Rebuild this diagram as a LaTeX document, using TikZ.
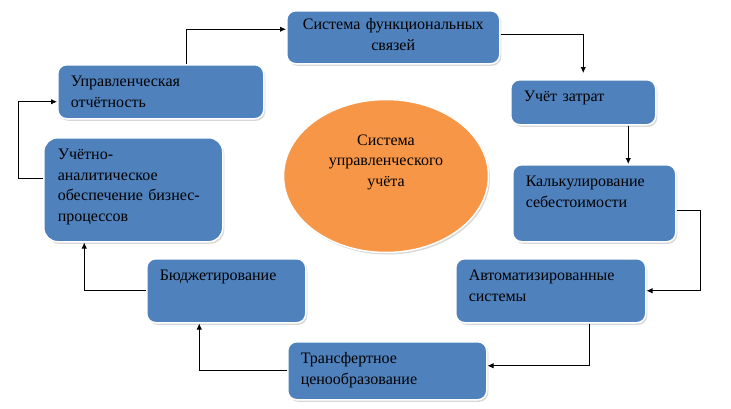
\documentclass[tikz,border=0pt]{standalone}
\usepackage{fontspec}
\setmainfont{Liberation Serif}
\usepackage{tikz}
\usetikzlibrary{shapes.geometric,shadows,arrows.meta}

\definecolor{sinij}{HTML}{4F81BD}
\definecolor{oranzh}{HTML}{F79646}
\newcommand{\tekst}{\fontsize{16}{20.5}\selectfont}

\begin{document}
\begin{tikzpicture}[
    x=1pt,
    y=-1pt,
    blok/.style={
        rectangle,
        rounded corners=9pt,
        fill=sinij,
        draw=white,
        line width=1.5pt,
        drop shadow={shadow xshift=1.5pt, shadow yshift=-2pt, fill=gray!60},
        anchor=north west,
        align=left,
        inner xsep=13pt,
        inner ysep=10pt,
        text height=12pt,
        font=\tekst
    },
    krugstyle/.style={
        ellipse,
        fill=oranzh,
        draw=white,
        line width=1.5pt,
        drop shadow={shadow xshift=1.5pt, shadow yshift=-2pt, fill=gray!60},
        minimum width=205pt,
        minimum height=153pt,
        inner sep=0pt,
        align=center,
        text width=125pt,
        text height=12pt,
        text depth=74pt,
        font=\tekst
    },
    strelka/.style={
        line width=0.9pt,
        -{Latex[length=6pt,width=5.5pt]}
    }
]

\useasboundingbox (0,0) rectangle (731,408);

% centre
\node[krugstyle] (krug) at (386,176) {Система\\управленческого\\учёта};

% boxes round the centre
\node[blok, align=center, inner xsep=7pt, inner ysep=7pt, text width=199pt, text depth=27pt]
    (sys) at (286,10) {Система функциональных\\связей};
\node[blok, text width=119pt, text depth=13pt]
    (zatr) at (510,79) {Учёт затрат};
\node[blok, text width=137pt, text depth=45pt]
    (kalk) at (512,164) {Калькулирование\\себестоимости};
\node[blok, text width=164pt, text depth=32pt]
    (avt) at (455,258) {Автоматизированные\\системы};
\node[blok, text width=173pt, text depth=26pt]
    (trans) at (287,341) {Трансфертное\\ценообразование};
\node[blok, text width=133pt, text depth=32pt]
    (bud) at (146,258) {Бюджетирование};
\node[blok, rounded corners=14pt, inner xsep=14pt, text width=151pt, text depth=72pt]
    (uan) at (43,137) {Учётно-\\аналитическое\\обеспечение бизнес-\\процессов};
\node[blok, text width=180pt, text depth=22pt]
    (otch) at (57,64) {Управленческая\\отчётность};

% arrows
\draw[strelka] ([xshift=26pt]otch.north) |- ([yshift=8pt]sys.west);
\draw[strelka, shorten >=6pt] ([yshift=3pt]sys.east) -| (zatr.north);
\draw[strelka] ([xshift=45pt]zatr.south) -- ([xshift=45pt]zatr.south |- kalk.north);
\draw[strelka] ([yshift=-7pt]kalk.east) -- ++(24,0) |- (avt.east);
\draw[strelka] ([xshift=39pt]avt.south) |- ([yshift=5pt]trans.east);
\draw[strelka] (trans.west) -| ([xshift=-27pt]bud.south);
\draw[strelka] (bud.west) -| ([xshift=-49pt]uan.south);
\draw[strelka] ([yshift=11pt]uan.west) -- ++(-25,0) |- ([yshift=-10pt]otch.west);

\end{tikzpicture}
\end{document}
